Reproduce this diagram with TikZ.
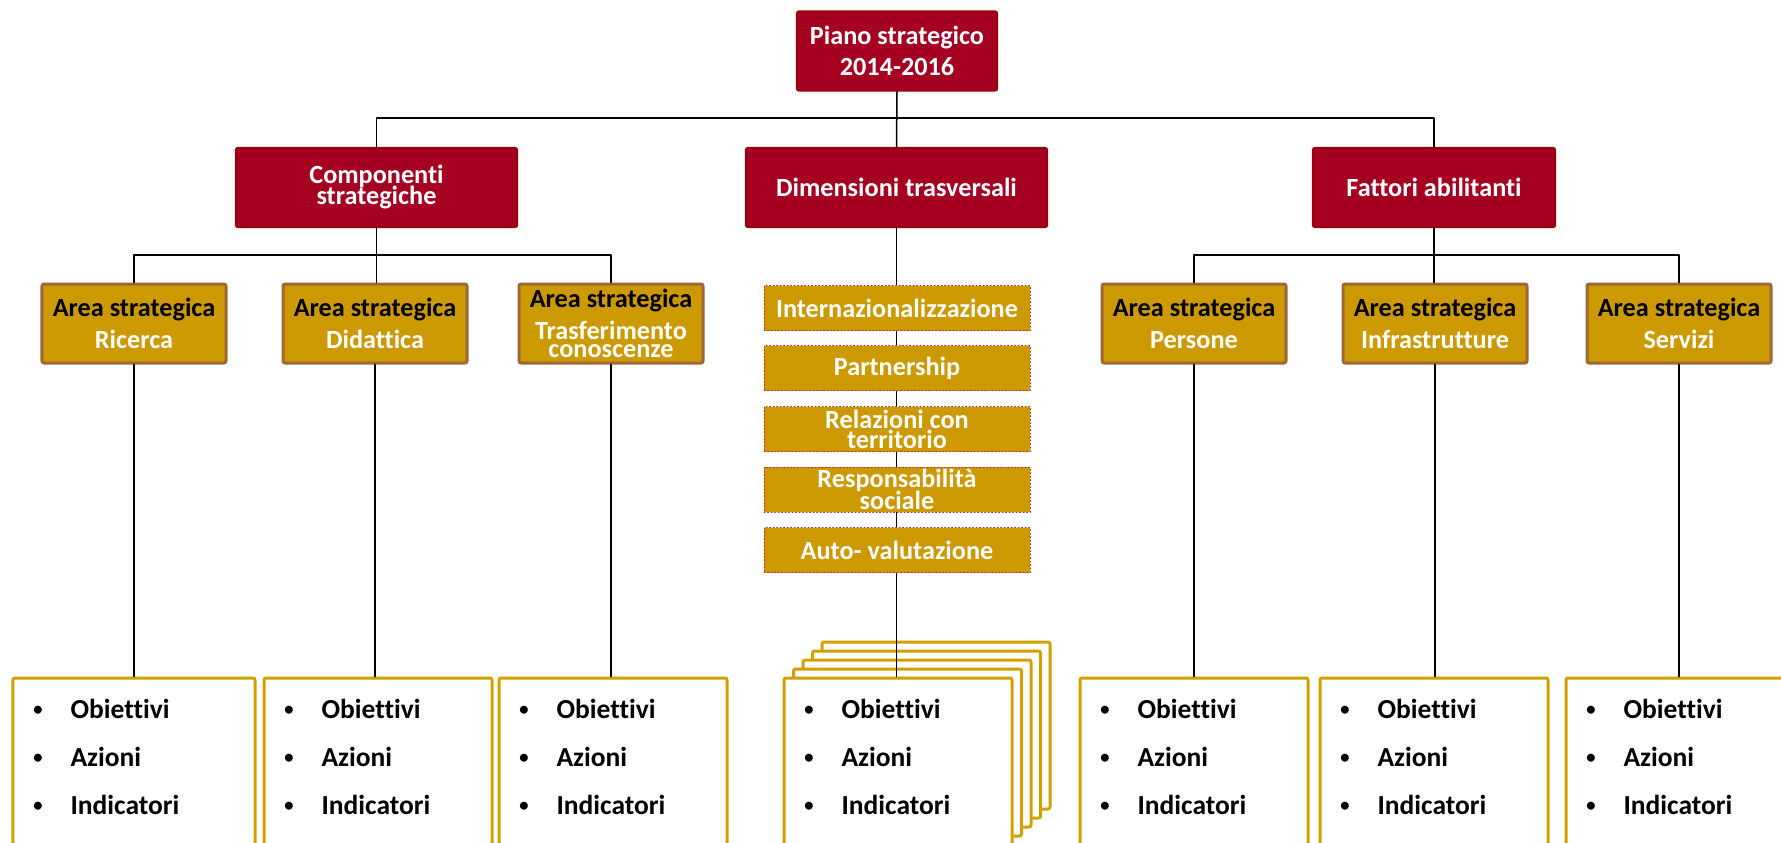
\documentclass[tikz,border=0pt]{standalone}
\usepackage{fontspec}
\setmainfont{Carlito}[Ligatures=NoCommon]
\usepackage{tikz}

\definecolor{rosso}{RGB}{165,0,33}
\definecolor{rossobordo}{RGB}{150,0,10}
\definecolor{oro}{RGB}{204,153,0}
\definecolor{marrone}{RGB}{158,104,54}
\definecolor{orolinea}{RGB}{212,160,0}

\tikzset{
  testo/.style={font=\fontsize{10.5}{12.6}\selectfont\bfseries},
  rossobox/.style={testo, draw=rossobordo, line width=0.9pt, fill=rosso, text=white,
    rounded corners=0.8pt, inner sep=0pt, minimum height=31.6pt, align=center},
  areabox/.style={testo, draw=marrone, line width=1.2pt, fill=oro, rounded corners=0.8pt,
    inner sep=0pt, minimum width=73.6pt, minimum height=31.6pt, align=center},
  dimbox/.style={testo, draw=rossobordo!80, densely dotted, line width=0.4pt, fill=oro,
    text=white, inner sep=0pt, minimum width=106.4pt, minimum height=18pt, align=center},
  scheda/.style={draw=orolinea, line width=1.2pt, fill=white, rounded corners=0.8pt,
    inner sep=0pt, minimum height=66.8pt},
  voce/.style={anchor=base west, inner sep=0pt, font=\fontsize{11}{13}\selectfont\bfseries},
  punto/.style={anchor=base, inner sep=0pt, font=\fontsize{9}{11}\selectfont},
  linea/.style={line width=0.6pt}
}

\begin{document}
\begin{tikzpicture}[line cap=round,line join=round,x=0.4pt,y=-0.4pt]
\useasboundingbox (0,0) rectangle (1781,842);
\coordinate (bus1) at (0,118);
\coordinate (bus2) at (0,255);

\node[rossobox, minimum width=80pt] (piano) at (897,51) {Piano strategico\\2014-2016};
\node[rossobox, minimum width=112.4pt] (comp) at (376.5,187.5) {Componenti\\[-4.2pt]strategiche};
\node[rossobox, minimum width=120.4pt] (dim) at (896.5,187.5) {Dimensioni trasversali};
\node[rossobox, minimum width=96.8pt] (fatt) at (1434,187.5) {Fattori abilitanti};

\node[areabox] (ric) at (134,323.5) {Area strategica\\\textcolor{white}{Ricerca}};
\node[areabox] (did) at (375,323.5) {Area strategica\\\textcolor{white}{Didattica}};
\node[areabox] (tra) at (611,323.5) {Area strategica\\\textcolor{white}{Trasferimento}\\[-5.2pt]\textcolor{white}{conoscenze}};
\node[areabox] (per) at (1194,323.5) {Area strategica\\\textcolor{white}{Persone}};
\node[areabox] (inf) at (1435,323.5) {Area strategica\\\textcolor{white}{Infrastrutture}};
\node[areabox] (ser) at (1679,323.5) {Area strategica\\\textcolor{white}{Servizi}};

\draw[linea] (piano.south) -- (dim.north);
\draw[linea] (comp.north) -- (comp.north |- bus1) -- (fatt.north |- bus1) -- (fatt.north);
\draw[linea] (ric.north) -- (ric.north |- bus2) -- (tra.north |- bus2) -- (tra.north);
\draw[linea] (comp.south) -- (comp.south |- did.north);
\draw[linea] (per.north) -- (per.north |- bus2) -- (ser.north |- bus2) -- (ser.north);
\draw[linea] (fatt.south) -- (fatt.south |- inf.north);

% schede in fondo
\foreach \k in {4,3,2,1}
  \draw[orolinea, line width=1.2pt, fill=white, rounded corners=0.8pt]
    ({784+\k*9.5},{678-\k*9}) rectangle ++(228,167);
\node[scheda, minimum width=96.8pt] (sch1) at (134,761.5) {};
\node[scheda, minimum width=91.2pt] (sch2) at (378,761.5) {};
\node[scheda, minimum width=91.2pt] (sch3) at (613,761.5) {};
\node[scheda, minimum width=91.2pt] (sch4) at (898,761.5) {};
\node[scheda, minimum width=91.2pt] (sch5) at (1194,761.5) {};
\node[scheda, minimum width=91.2pt] (sch6) at (1434,761.5) {};
\node[scheda, minimum width=91.2pt] (sch7) at (1680,761.5) {};

\foreach \n/\l in {1/13,2/264,3/499,4/784,5/1080,6/1320,7/1566}{
  \node[punto] (p\n a) at ({\l+25},716) {•};
  \node[voce] (v\n a) at ({\l+57},718) {Obiettivi};
  \node[punto] (p\n b) at ({\l+25},764) {•};
  \node[voce] (v\n b) at ({\l+57},766) {Azioni};
  \node[punto] (p\n c) at ({\l+25},812) {•};
  \node[voce] (v\n c) at ({\l+57},814) {Indicatori};
}

\foreach \a/\s in {ric/sch1,did/sch2,tra/sch3,per/sch5,inf/sch6,ser/sch7}
  \draw[linea] (\a.south) -- (\a.south |- \s.north);
\draw[linea] (dim.south) -- (dim.south |- sch4.north);

% dimensioni trasversali
\node[dimbox] (int) at (897,308) {Internazionalizzazione};
\node[dimbox] (par) at (897,368) {Partnership};
\node[dimbox] (rel) at (897,429) {Relazioni con\\[-4.6pt]territorio};
\node[dimbox] (res) at (897,489.5) {Responsabilità\\[-4pt]sociale};
\node[dimbox] (aut) at (897,550) {Auto- valutazione};
\end{tikzpicture}
\end{document}
